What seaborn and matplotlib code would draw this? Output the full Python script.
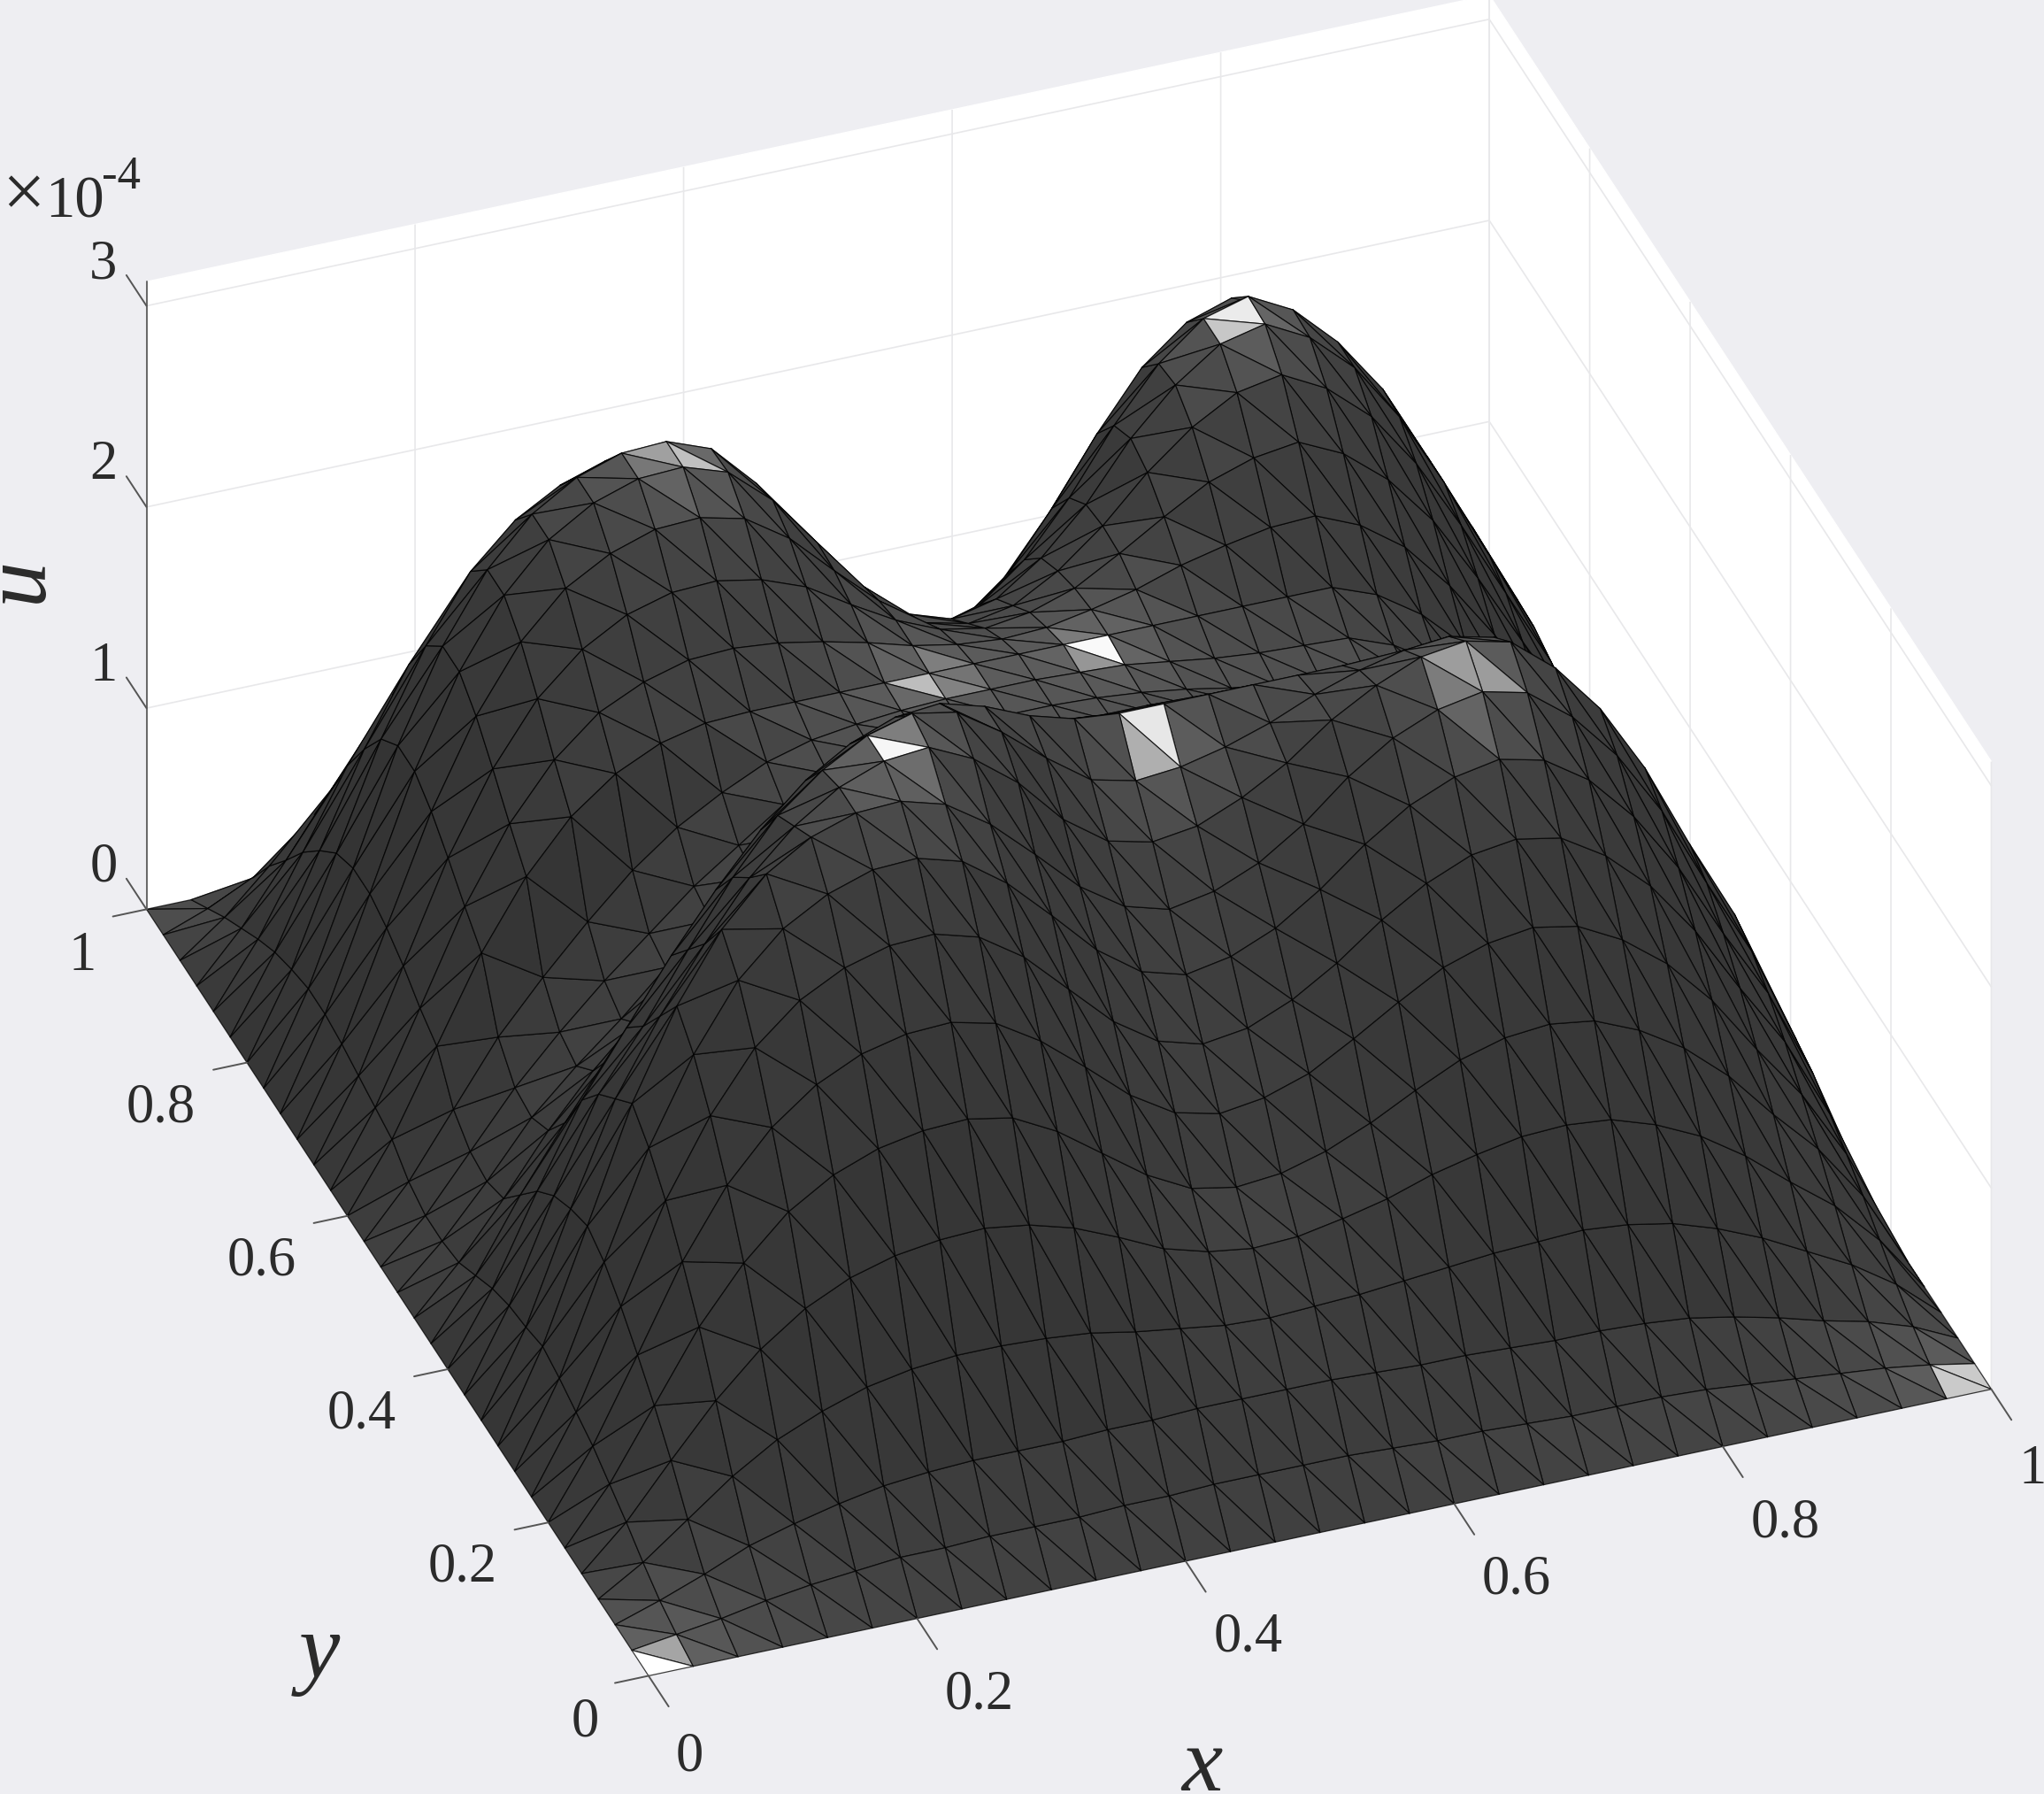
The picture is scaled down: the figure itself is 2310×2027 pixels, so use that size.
import numpy as np
import matplotlib
matplotlib.use("Agg")
import matplotlib.pyplot as plt
import matplotlib.tri as mtri
import seaborn as sns

sns.set_theme(style="white")
SERIF = ["Liberation Serif", "DejaVu Serif"]
plt.rcParams["font.family"] = SERIF

x_ticks = [0, 0.2, 0.4, 0.6, 0.8, 1]
y_ticks = [0, 0.2, 0.4, 0.6, 0.8, 1]
z_ticks = [0, 1, 2, 3]
# surface heights; rows run along y, columns along x
heights = [
[0]*31,
[0,3,6,10,13,15,17,17,18,18,18,19,19,20,20,20,20,19,18,18,17,16,16,16,15,13,11,9,7,4,0],
[0,7,15,24,30,35,39,41,42,42,42,43,43,44,44,44,44,43,42,42,41,40,40,39,37,33,28,22,17,10,0],
[0,13,29,45,58,67,74,78,80,80,79,77,73,70,67,66,67,68,70,72,74,75,76,74,70,63,54,43,32,18,0],
[0,20,45,69,89,104,114,120,123,124,121,115,106,96,90,87,88,92,97,104,109,113,114,112,105,95,81,64,48,27,0],
[0,26,59,92,118,138,151,159,163,164,160,149,134,119,108,104,106,112,121,132,142,148,150,147,138,125,107,84,63,36,0],
[0,32,71,111,143,166,182,192,197,198,193,180,163,145,132,127,130,137,149,162,174,181,184,180,169,153,131,103,77,44,0],
[0,36,82,128,164,192,210,221,227,228,222,208,188,168,154,148,151,160,173,189,202,211,214,210,197,178,152,120,90,51,0],
[0,40,91,141,181,212,232,244,251,252,246,231,211,190,175,169,173,182,196,213,227,236,240,235,221,199,170,134,101,58,0],
[0,43,96,150,192,224,246,259,266,267,261,247,228,208,194,188,192,201,215,233,247,256,260,255,239,216,185,146,109,62,0],
[0,40,92,140,175,205,232,252,266,274,276,266,250,228,213,208,211,220,232,248,260,269,272,267,250,226,193,152,114,65,0],
[0,38,86,130,158,190,220,245,262,274,280,276,262,245,230,225,227,232,239,248,255,260,262,257,241,217,186,147,110,63,0],
[0,34,76,115,145,175,202,226,245,258,266,268,262,253,247,245,245,245,245,245,245,245,245,240,225,203,174,137,103,59,0],
[0,28,62,92,118,142,165,186,206,225,240,250,248,240,234,232,232,231,230,228,227,226,226,221,208,188,160,127,95,54,0],
[0,22,48,76,100,118,140,158,176,194,210,220,222,218,212,210,210,210,209,209,208,208,208,204,191,173,148,116,87,50,0],
[0,20,44,70,90,108,128,146,162,178,192,200,204,204,201,200,200,199,197,195,193,192,192,188,177,159,136,108,81,46,0],
[0,20,46,72,94,114,132,150,165,180,190,196,200,200,200,200,199,197,194,190,187,185,184,177,164,145,121,96,70,37,0],
[0,24,54,84,108,130,150,166,178,188,194,197,199,200,200,200,199,198,195,192,190,189,188,180,167,149,124,98,71,38,0],
[0,32,72,112,144,168,184,194,199,200,200,200,200,200,200,200,200,200,200,200,200,200,200,192,178,158,132,104,76,40,0],
[0,35,78,122,157,183,201,211,217,218,216,212,207,201,197,195,196,200,205,212,217,221,222,213,198,175,147,115,84,44,0],
[0,38,86,133,171,200,219,231,237,238,234,226,213,201,192,188,191,198,210,223,235,242,245,235,218,194,162,127,93,49,0],
[0,41,92,143,184,215,236,248,255,256,251,237,217,198,183,178,182,194,211,232,249,261,265,254,236,209,175,138,101,53,0],
[0,43,96,150,193,225,247,260,267,268,261,243,218,193,175,168,173,188,209,236,257,272,277,266,247,219,183,144,105,55,0],
[0,43,96,150,193,225,247,260,267,268,260,239,210,181,160,152,158,175,200,230,255,272,278,267,247,220,183,145,106,56,0],
[0,40,91,141,181,212,232,244,251,252,244,222,192,162,140,132,139,156,183,214,241,258,265,254,236,209,175,138,101,53,0],
[0,36,80,124,160,186,204,215,221,222,214,194,166,138,118,110,116,133,158,188,212,229,235,226,209,186,155,122,89,47,0],
[0,30,67,104,133,155,170,179,184,185,178,161,137,112,95,88,93,107,129,154,176,190,195,187,174,154,129,101,74,39,0],
[0,23,51,80,102,119,131,138,141,142,136,122,102,82,68,62,66,78,95,115,132,144,148,142,132,117,98,77,56,30,0],
[0,16,36,56,72,84,92,97,100,100,96,85,70,55,44,40,43,51,64,79,91,99,102,98,91,81,67,53,39,20,0],
[0,8,18,28,36,42,46,48,50,50,48,42,34,26,20,18,20,24,30,38,44,48,50,48,45,40,33,26,19,10,0],
[0]*31,
]
# spots of glare on the surface, as seen in the picture
glare_x = [0.31, 0.73, 0.30, 0.72, 0.433, 0.553, 0.52, 0.012, 0.988]
glare_y = [0.34, 0.31, 0.745, 0.75, 0.594, 0.592, 0.385, 0.012, 0.012]
u = np.array(heights, float) * 1.04 / 100

W, H = 2310, 2027
BG = "#eeeef2"
fig = plt.figure(figsize=(W/100, H/100), dpi=100, facecolor=BG)
S = 2377
L = -12.6
B = -137.6
ax = fig.add_axes([L/W, B/H, S/W, S/H], projection="3d", proj_type="ortho", computed_zorder=False)
ax.set_facecolor(BG)
ax.patch.set_alpha(0)
ax.view_init(elev=34.8, azim=-110.5, roll=0)
ax.set_box_aspect((1, 1, 0.533), zoom=1)
ax.set_xlim(0, 1, view_margin=0)
ax.set_ylim(0, 1, view_margin=0)
ax.set_zlim(0, 3.12, view_margin=0)
ax.set_xticks(x_ticks); ax.set_yticks(y_ticks); ax.set_zticks(z_ticks)
ax.set_xticklabels([]); ax.set_yticklabels([]); ax.set_zticklabels([])
for axis in (ax.xaxis, ax.yaxis, ax.zaxis):
    axis.set_pane_color((1, 1, 1, 1))
    axis.pane.set_edgecolor("white")
    axis.line.set_color((0, 0, 0, 0))
    axis._axinfo["grid"].update(color="#e8e8ea", linewidth=1.2)
    axis._axinfo["tick"].update(inward_factor=0, outward_factor=0)
ax.tick_params(axis="both", length=0, color=(0, 0, 0, 0))

n = u.shape[0]
gx = np.linspace(0, 1, n)
X, Y = np.meshgrid(gx, gx)
idx = np.arange(n*n).reshape(n, n)
a, b, c, d = idx[:-1, :-1].ravel(), idx[:-1, 1:].ravel(), idx[1:, 1:].ravel(), idx[1:, :-1].ravel()
tris = np.vstack([np.c_[a, b, d], np.c_[b, c, d]])
tri = mtri.Triangulation(X.ravel(), Y.ravel(), tris)
surf = ax.plot_trisurf(tri, u.ravel(), color="#3c3c3c", edgecolor=(0, 0, 0, 0.75), linewidth=0.9, shade=False, zorder=2)

P = np.c_[X.ravel(), Y.ravel(), u.ravel() * 0.533 / 3.12]
e1 = P[tris[:, 1]] - P[tris[:, 0]]
e2 = P[tris[:, 2]] - P[tris[:, 0]]
nrm = np.cross(e1, e2)
nrm /= np.linalg.norm(nrm, axis=1, keepdims=True)
nrm[nrm[:, 2] < 0] *= -1
g = 0.19 + 0.13 * nrm[:, 2] ** 2
cx = P[tris, 0].mean(axis=1)
cy = P[tris, 1].mean(axis=1)
for sx, sy in zip(glare_x, glare_y):
    dd = (cx - sx) ** 2 + (cy - sy) ** 2
    g = g + 0.62 * np.exp(-dd / (2 * 0.011 ** 2)) + 0.08 * np.exp(-dd / (2 * 0.035 ** 2))
g = np.clip(g, 0, 1)
surf.set_facecolor(np.c_[g, g, g, np.ones_like(g)])

TC = "#2b2b2b"
LC = "#555555"
FS = 45
for v in x_ticks:
    ax.plot([v, v], [0, -0.04], [0, 0], color=LC, lw=1.4, zorder=3)
    ax.text(v + (0.008 if 0 < v < 1 else -0.008), -0.103, 0, f"{v:g}", ha="center", va="center", fontsize=FS, color=TC, zorder=4)
for v in y_ticks:
    ax.plot([0, -0.025], [v, v], [0, 0], color=LC, lw=1.4, zorder=3)
    dx, dy = (-0.0758, -0.0313) if 0 < v < 1 else (-0.0618, -0.0383)
    ax.text(dx, v + dy, 0, f"{v:g}", ha="center", va="center", fontsize=FS, color=TC, zorder=4)
ax.plot([0, 0], [1, 1], [0, 3.12], color="#666666", lw=1.4, zorder=3)
for v in z_ticks:
    ax.plot([0, 0], [1, 1.04], [v, v], color=LC, lw=1.4, zorder=3)
    ax.text(0, 1.086, v - 0.123, f"{v:g}", ha="center", va="center", fontsize=FS, color=TC, zorder=4)

fig.text(2/W, 1-245/H, "\u00d7", fontsize=62, color=TC, ha="left", va="baseline")
fig.text(51/W, 1-245/H, "10", fontsize=48, color=TC, ha="left", va="baseline")
fig.text(115/W, 1-213/H, "-4", fontsize=38, color=TC, ha="left", va="baseline")
fig.text(22/W, 1-655/H, "u", style="italic", fontsize=75, color=TC, rotation=90, ha="center", va="center")
fig.text(361/W, 1-1870/H, "y", style="italic", fontsize=75, color=TC, ha="center", va="center")
fig.text(1358/W, 1-1998/H, "x", style="italic", fontsize=75, color=TC, ha="center", va="center")

fig.savefig("out.png", dpi=100, facecolor=BG)
